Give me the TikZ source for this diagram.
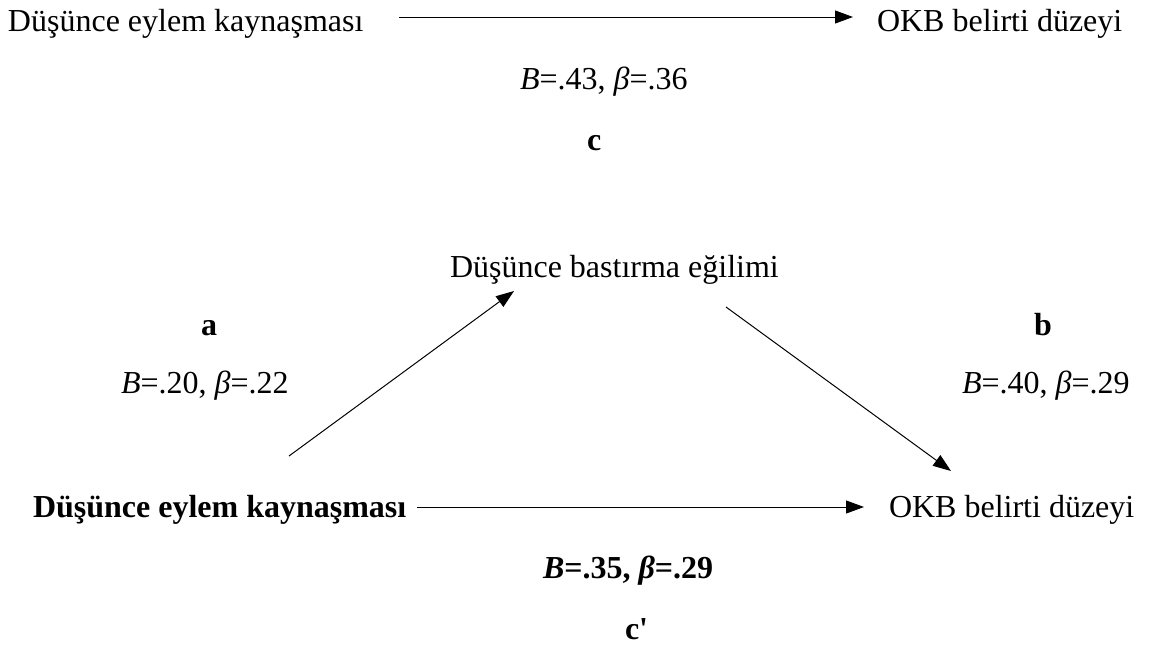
\documentclass[tikz,border=0pt]{standalone}
\usepackage{fontspec}
\setmainfont{Liberation Serif}[Ligatures=TeXOff]
\usetikzlibrary{arrows.meta}
\tikzset{
  txt/.style={inner sep=0pt, outer sep=0pt, anchor=base west, font=\fontsize{32}{38}\selectfont},
  lbl/.style={txt},
  arr/.style={line width=1pt, -{Triangle[length=18pt,width=13pt]}}
}
\begin{document}
\begin{tikzpicture}[x=1pt,y=-1pt]
\useasboundingbox (0,0) rectangle (1151,645);
% top panel
\node[txt] (tl) at (8,31) {Düşünce eylem kaynaşması};
\node[txt] (tr) at (877,31) {OKB belirti düzeyi};
\node[lbl] (tc) at (520,89) {\textit{B}=.43, \textit{β}=.36};
\node[lbl] (tcl) at (587,150) {\textbf{c}};
% bottom panel
\node[txt] (m) at (450,277) {Düşünce bastırma eğilimi};
\node[lbl] (la) at (201,335) {\textbf{a}};
\node[lbl] (lav) at (121,393) {\textit{B}=.20, \textit{β}=.22};
\node[lbl] (lb) at (1034,335) {\textbf{b}};
\node[lbl] (lbv) at (962,393) {\textit{B}=.40, \textit{β}=.29};
\node[txt] (bl) at (33,517) {\textbf{Düşünce eylem kaynaşması}};
\node[txt] (br) at (889,517) {OKB belirti düzeyi};
\node[lbl] (lcv) at (543,578) {\textbf{\textit{B}=.35, \textit{β}=.29}};
\node[lbl] (lcl) at (625,639) {\textbf{c'}};
% connector end points
\coordinate (t1) at (399,17);
\coordinate (t2) at (853,17);
\coordinate (a1) at (289,456);
\coordinate (a2) at (514,291);
\coordinate (b1) at (726,307);
\coordinate (b2) at (951,471);
\coordinate (c1) at (417,507);
\coordinate (c2) at (864,507);
\draw[arr] (t1) -- (t2);
\draw[arr] (a1) -- (a2);
\draw[arr] (b1) -- (b2);
\draw[arr] (c1) -- (c2);
\end{tikzpicture}
\end{document}
